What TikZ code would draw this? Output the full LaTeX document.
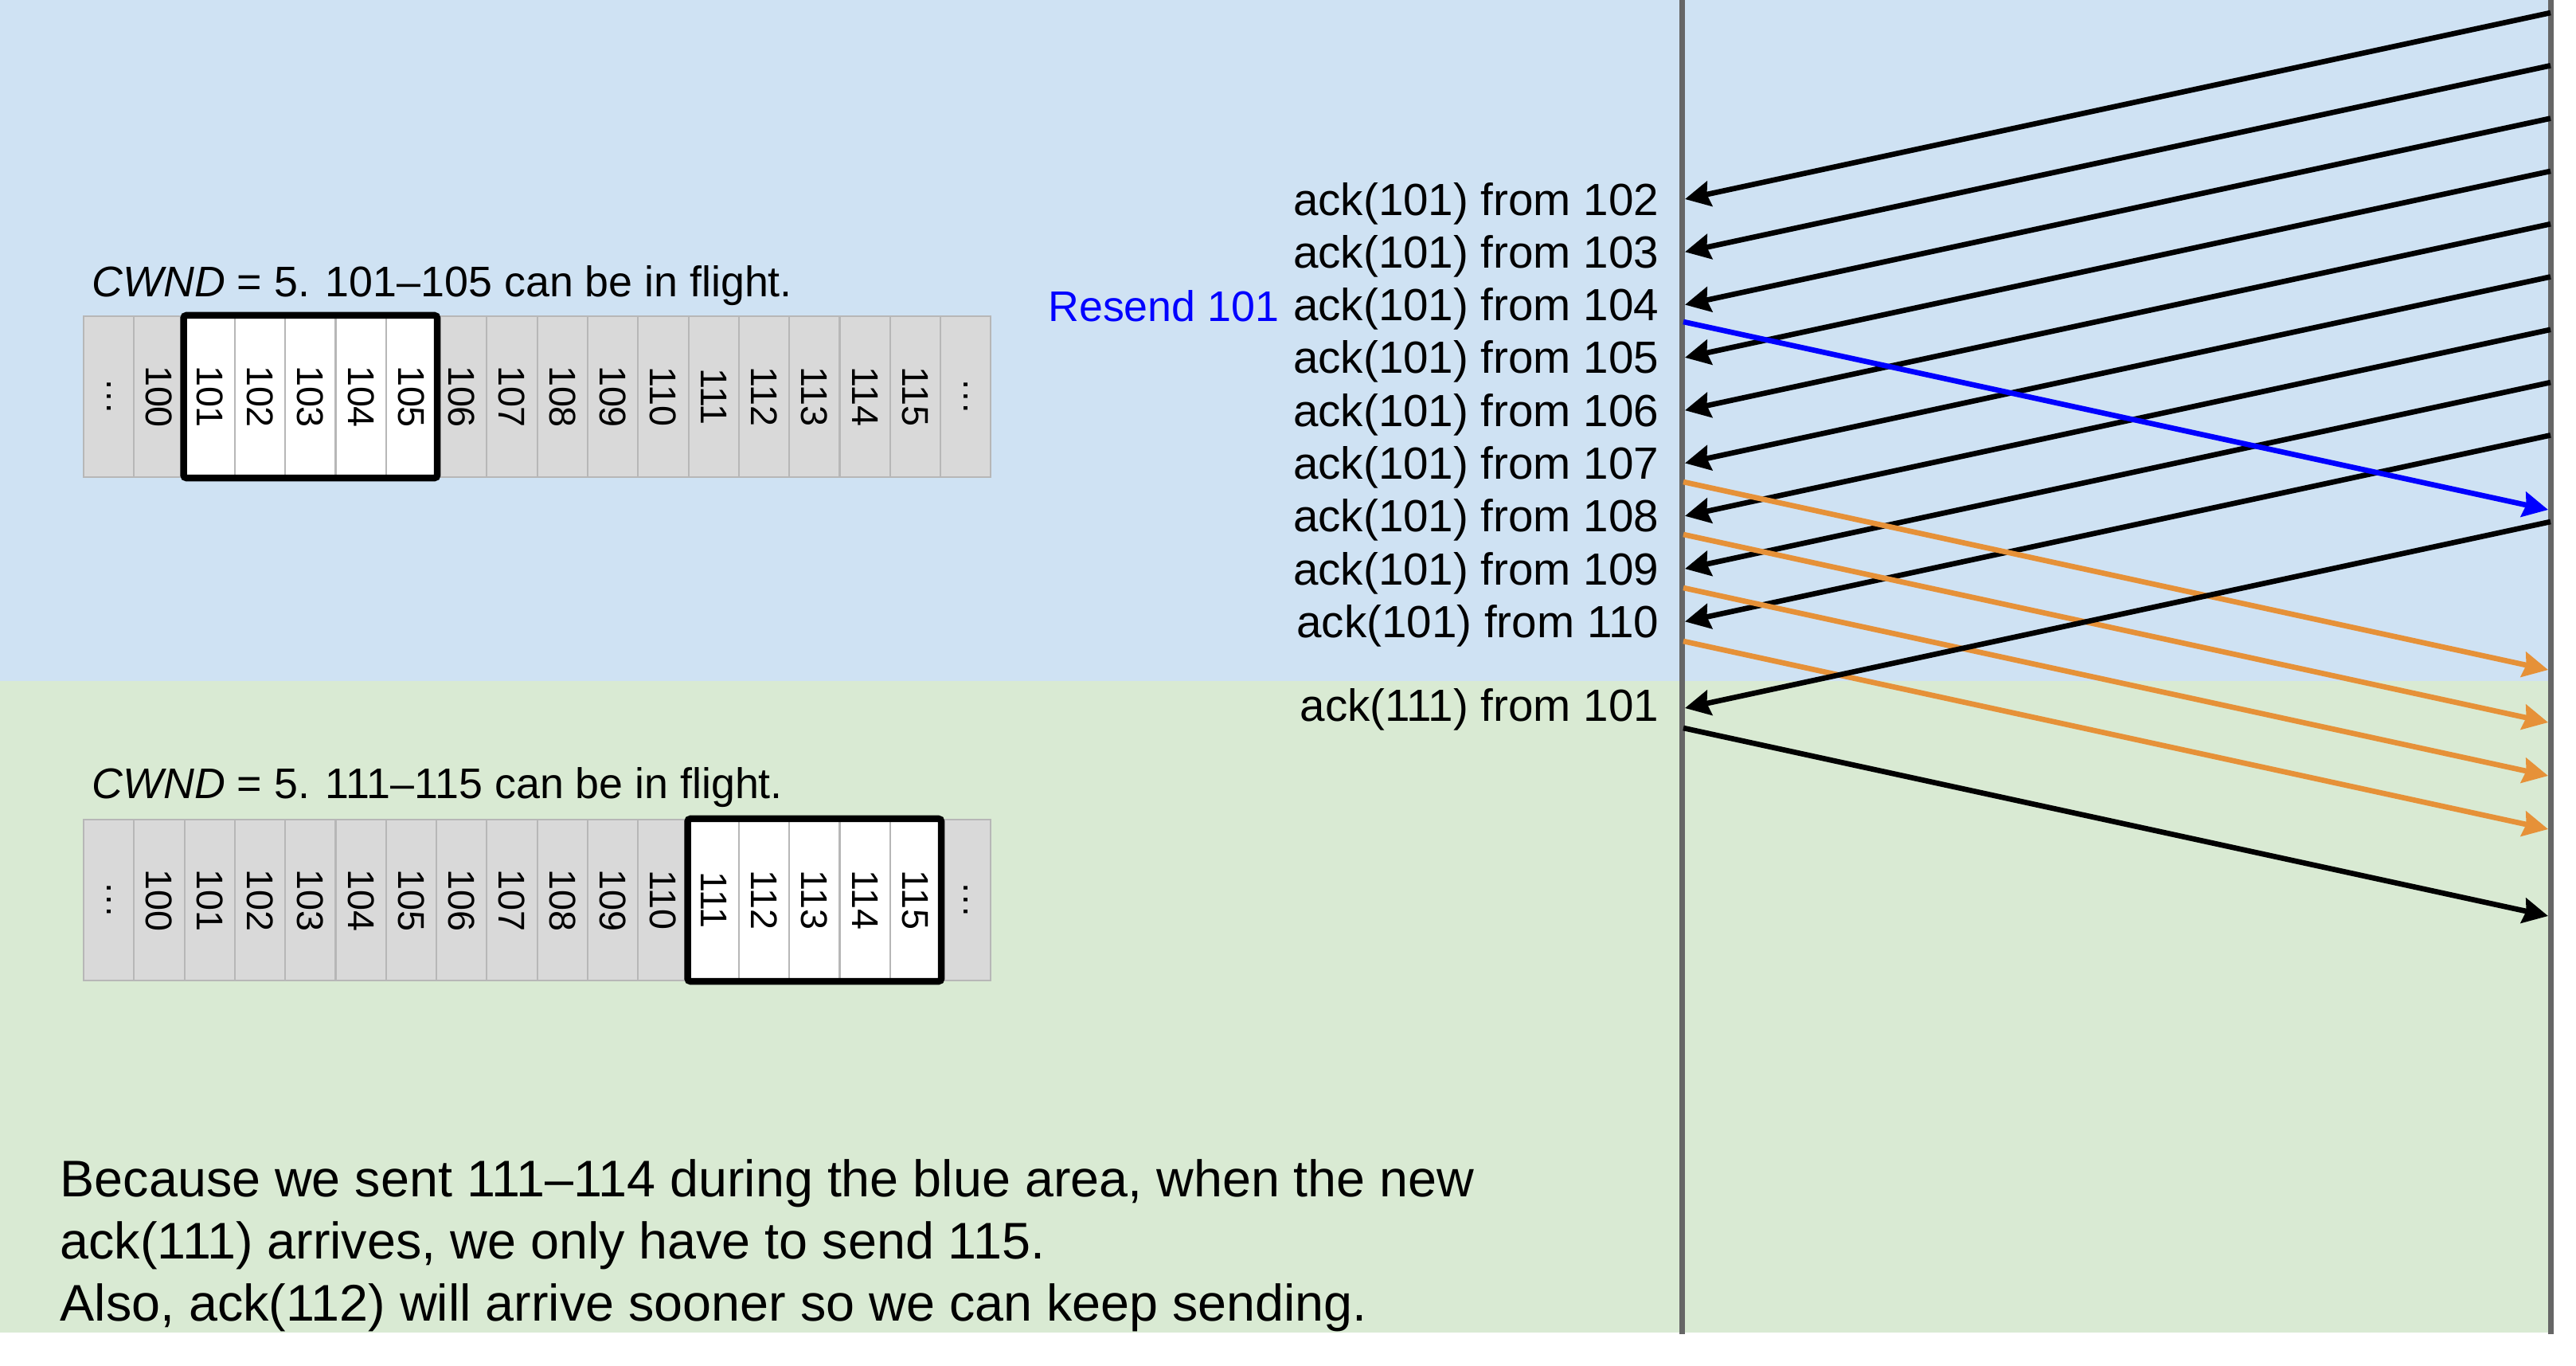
\documentclass[tikz,border=0pt]{standalone}
\usepackage{fontspec}
\setmainfont{Liberation Sans}
\usepackage{xcolor}
\usepackage{tikz}
\usetikzlibrary{arrows.meta,calc}

\definecolor{bluebg}{HTML}{CFE2F3}
\definecolor{greenbg}{HTML}{D9EAD3}
\definecolor{cellgray}{HTML}{D9D9D9}
\definecolor{cellline}{HTML}{B7B7B7}
\definecolor{linegray}{HTML}{666666}
\definecolor{sendorange}{HTML}{E69138}
\definecolor{resendblue}{HTML}{0000FF}

\newcommand{\cellfont}{\fontsize{13.3}{16}\selectfont}
\newcommand{\lblfont}{\fontsize{16.1}{19}\selectfont}
\newcommand{\cwndfont}{\fontsize{15.3}{18}\selectfont}
\newcommand{\notefont}{\fontsize{18.4}{22}\selectfont}

\tikzset{
  cellbox/.style={draw=cellline,fill=cellgray,line width=0.6pt,minimum width=0.633cm,
    minimum height=2.02cm,inner sep=0pt,font=\cellfont},
  winbox/.style={draw=black,line width=2.4pt,rounded corners=1pt},
  timeline/.style={draw=linegray,line width=2pt},
  msg/.style={line width=1.9pt,-{Stealth[length=9pt,width=9pt,inset=1pt]}},
  lbl/.style={font=\lblfont,inner sep=0pt},
}

\begin{document}
\begin{tikzpicture}[x=1cm,y=-1cm]
  \useasboundingbox (0,0) rectangle (32.35,17.14);
  \fill[bluebg] (0,0) rectangle (32.03,8.55);
  \fill[greenbg] (0,8.55) rectangle (32.03,16.73);

  \coordinate (sndtop) at (21.12,0);
  \coordinate (sndbot) at (21.12,16.75);
  \coordinate (rcvtop) at (32.03,0);
  \coordinate (rcvbot) at (32.03,16.75);
  \draw[timeline] (sndtop)--(sndbot);
  \draw[timeline] (rcvtop)--(rcvbot);

  % the two windows
  \node[font=\cwndfont,inner sep=0pt,anchor=base west] (cwndtop) at (1.15,3.72) {\textit{CWND} = 5. 101--105 can be in flight.};
  \node[font=\cwndfont,inner sep=0pt,anchor=base west] (cwndbot) at (1.15,10.02) {\textit{CWND} = 5. 111--115 can be in flight.};
  \foreach \row/\yc/\lo/\hi in {top/4.98/2/6,bot/11.30/12/16} {
    \foreach \lbl [count=\i from 0] in {…,100,101,102,103,104,105,106,107,108,109,110,111,112,113,114,115,…} {
      \ifnum\i<\lo \def\shade{cellgray}\else\ifnum\i>\hi \def\shade{cellgray}\else\def\shade{white}\fi\fi
      \node[cellbox,fill=\shade] (\row\i) at ({1.3665+0.633*\i},\yc) {\rotatebox{-90}{\lbl}};
    }
    \draw[winbox] (\row\lo.north west) rectangle (\row\hi.south east);
  }

  % duplicate acks
  \foreach \k in {0,...,8} {
    \pgfmathsetmacro\ya{2.50+0.663*\k}
    \pgfmathtruncatemacro\src{102+\k}
    \coordinate (ackout\k) at (32.03,\ya-2.34);
    \coordinate (ackin\k) at (21.16,\ya);
    \node[lbl,anchor=base east] (acklbl\k) at (20.84,\ya+0.20) {ack(101) from \src};
    \draw[msg] (ackout\k)--(ackin\k);
  }
  \node[font=\cwndfont,inner sep=0pt,anchor=base east,text=resendblue] (resend) at (16.07,4.03) {Resend 101};
  \coordinate (resout) at (21.14,4.04);
  \coordinate (resin) at (32.0,6.40);
  \draw[msg,color=resendblue] (resout)--(resin);

  \foreach \ys [count=\j] in {6.05,6.71,7.38,8.05} {
    \coordinate (sendout\j) at (21.14,\ys);
    \coordinate (sendin\j) at (32.0,\ys+2.36);
    \draw[msg,color=sendorange] (sendout\j)--(sendin\j);
  }

  \coordinate (newackout) at (32.03,6.55);
  \coordinate (newackin) at (21.16,8.89);
  \node[lbl,anchor=base east] (newacklbl) at (20.84,9.05) {ack(111) from 101};
  \draw[msg] (newackout)--(newackin);
  \coordinate (lastout) at (21.14,9.14);
  \coordinate (lastin) at (32.0,11.50);
  \draw[msg] (lastout)--(lastin);

  \node[anchor=base west,font=\notefont,inner sep=0pt] (note1) at (0.75,15.02) {Because we sent 111--114 during the blue area, when the new};
  \node[anchor=base west,font=\notefont,inner sep=0pt] (note2) at (0.75,15.80) {ack(111) arrives, we only have to send 115.};
  \node[anchor=base west,font=\notefont,inner sep=0pt] (note3) at (0.75,16.58) {Also, ack(112) will arrive sooner so we can keep sending.};
\end{tikzpicture}
\end{document}
